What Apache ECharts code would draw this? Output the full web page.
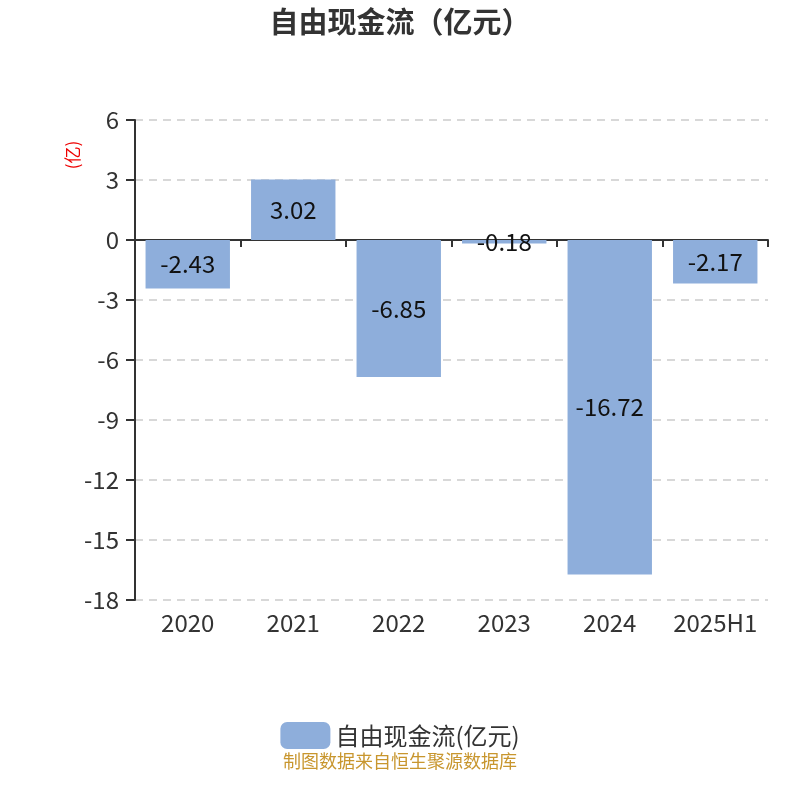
<!DOCTYPE html>
<html>
<head>
<meta charset="utf-8">
<script src="https://cdn.jsdelivr.net/npm/echarts@6/dist/echarts.min.js"></script>
<style>html,body{margin:0;padding:0;background:#fff;}#c{width:800px;height:800px;}</style>
</head>
<body>
<div id="c"></div>
<script>
var categories = ['2020', '2021', '2022', '2023', '2024', '2025H1'];
var seriesName = '自由现金流(亿元)';
var values = [-2.43, 3.02, -6.85, -0.18, -16.72, -2.17];
var yTicks = { min: -18, max: 6, interval: 3 };

var FONT = '"Noto Sans CJK SC", "Noto Sans", sans-serif';
var chart = echarts.init(document.getElementById('c'));
chart.setOption({
  backgroundColor: '#fff',
  textStyle: { fontFamily: FONT },
  title: {
    text: '自由现金流（亿元）',
    left: 'center', top: 2,
    textStyle: { fontSize: 29, fontWeight: 'bold', color: '#333', fontFamily: FONT }
  },
  legend: {
    bottom: 46, left: 'center',
    itemWidth: 50, itemHeight: 27, itemGap: 10,
    textStyle: { fontSize: 24, color: '#333', fontFamily: FONT },
    data: [seriesName]
  },
  graphic: [{
    type: 'text', left: 'center', top: 752,
    style: { text: '制图数据来自恒生聚源数据库', fill: '#c8962e', fontSize: 18, fontFamily: FONT }
  }, {
    type: 'text', x: 73, y: 155, rotation: Math.PI / 2,
    style: { text: '(亿)', fill: '#e00', fontSize: 17, align: 'center', verticalAlign: 'middle', fontFamily: FONT }
  }],
  grid: { left: 135, right: 32, top: 120, bottom: 200, containLabel: false },
  xAxis: [{
    type: 'category', data: categories, position: 'bottom',
    axisLine: { onZero: true, lineStyle: { color: '#333', width: 2 } },
    axisTick: { show: true, length: 7, lineStyle: { color: '#333', width: 2 } },
    axisLabel: { show: false }
  }, {
    type: 'category', data: categories, position: 'bottom',
    axisLine: { show: false, onZero: false },
    axisTick: { show: false },
    axisLabel: { show: true, interval: 0, fontSize: 24, color: '#333', margin: 11, fontFamily: FONT }
  }],
  yAxis: {
    type: 'value', min: yTicks.min, max: yTicks.max, interval: yTicks.interval,
    axisLine: { show: true, lineStyle: { color: '#333', width: 2 } },
    axisTick: { show: true, length: 9, lineStyle: { color: '#333', width: 2 } },
    axisLabel: { fontSize: 24, color: '#333', margin: 16, fontFamily: FONT },
    splitLine: { show: true, lineStyle: { color: '#ccc', type: [8, 6], width: 1.5 } }
  },
  series: [{
    name: seriesName, type: 'bar', data: values,
    xAxisIndex: 0, barWidth: '80%',
    itemStyle: { color: '#8eaedb' },
    label: { show: true, position: 'inside', fontSize: 24, color: '#111', fontFamily: FONT }
  }]
});
</script>
</body>
</html>
